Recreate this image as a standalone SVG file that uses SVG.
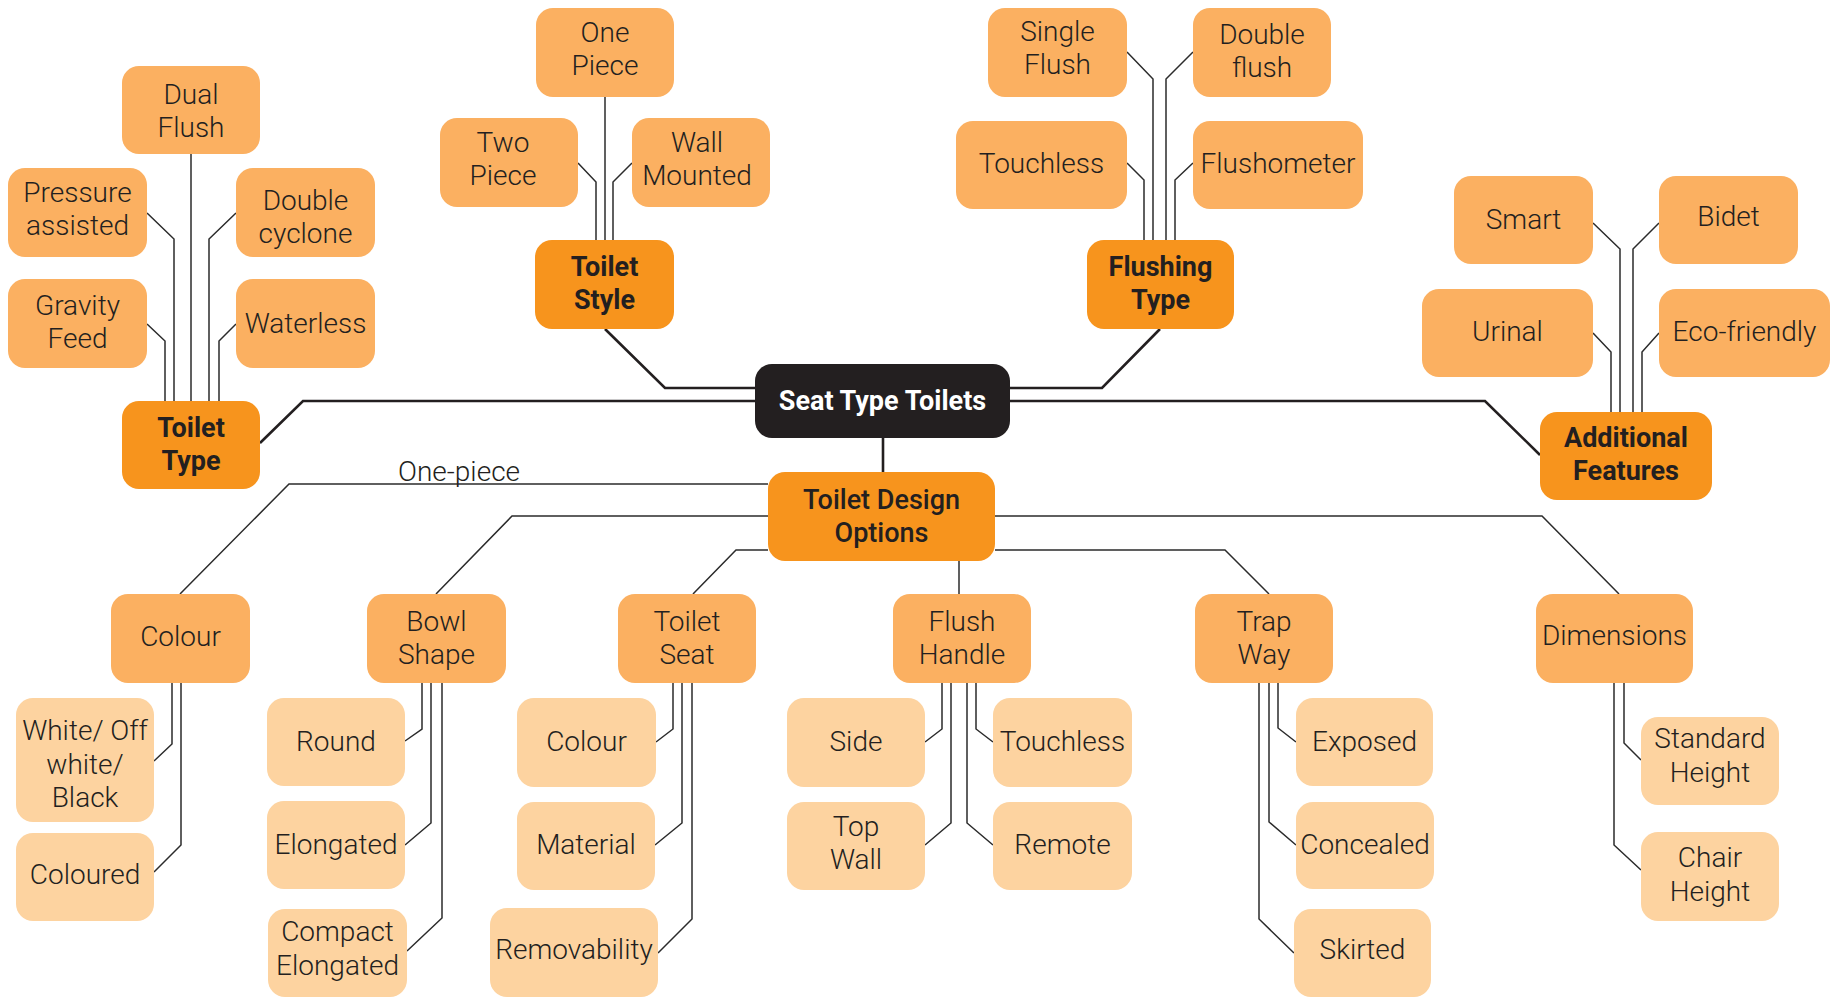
<svg xmlns="http://www.w3.org/2000/svg" width="1839" height="997" viewBox="0 0 1839 997">
<style>
.n1{fill:#F7941D}
.n2{fill:#FBB061}
.n3{fill:#FDD3A0}
.n0{fill:#231F20}
text{font-family:Roboto,"Liberation Sans",sans-serif;font-size:28px;fill:#231F20;text-anchor:middle}
.t{font-family:"Roboto Light",Roboto,"Liberation Sans",sans-serif;font-weight:300}
.b{font-weight:700;font-size:27px}
.m{font-weight:500;font-size:27px}
.w{fill:#FFFFFF;font-weight:700;font-size:27px}
.c{fill:none;stroke:#2B2B2B;stroke-width:1.5}
.k{fill:none;stroke:#231F20;stroke-width:2.6}
</style>
<rect width="1839" height="997" fill="#FFFFFF"/>
<g id="connectors">
<g class="k">
<path d="M755,401 H303 L260,443"/>
<path d="M755,388 H665 L605,329"/>
<path d="M1010,388 H1102 L1160,329"/>
<path d="M1010,401 H1485 L1540,455"/>
<path d="M883,438 V472"/>
</g>
<g class="c">
<path d="M191,154 V401"/>
<path d="M147,213 L174,239 V401"/>
<path d="M236,213 L209,239 V401"/>
<path d="M147,324 L165,341 V401"/>
<path d="M236,324 L219,341 V401"/>
<path d="M605,97 V240"/>
<path d="M578,163 L596,182 V240"/>
<path d="M632,163 L613,182 V240"/>
<path d="M1127,52 L1153,79 V240"/>
<path d="M1193,52 L1166,79 V240"/>
<path d="M1127,163 L1144,180 V240"/>
<path d="M1193,163 L1175,180 V240"/>
<path d="M1593,223 L1620,249 V412"/>
<path d="M1659,223 L1633,249 V412"/>
<path d="M1593,333 L1611,352 V412"/>
<path d="M1659,333 L1642,352 V412"/>
<path d="M768,484 H289 L180,594"/>
<path d="M768,516 H512 L436,594"/>
<path d="M768,550 H736 L693,594"/>
<path d="M959,561 V594"/>
<path d="M995,550 H1225 L1269,594"/>
<path d="M995,516 H1542 L1619,594"/>
<path d="M172,683 V744 L154,761"/>
<path d="M181,683 V845 L154,872"/>
<path d="M422,683 V729 L405,741"/>
<path d="M431,683 V823 L405,845"/>
<path d="M442,683 V918 L407,951"/>
<path d="M673,683 V729 L656,742"/>
<path d="M682,683 V823 L655,845"/>
<path d="M692,683 V919 L658,953"/>
<path d="M942,683 V729 L925,742"/>
<path d="M951,683 V823 L925,845"/>
<path d="M976,683 V729 L993,742"/>
<path d="M967,683 V823 L993,845"/>
<path d="M1278,683 V728 L1296,742"/>
<path d="M1269,683 V822 L1296,845"/>
<path d="M1259,683 V919 L1294,953"/>
<path d="M1624,683 V743 L1641,760"/>
<path d="M1614,683 V845 L1641,870"/>
</g>
<text class="t" x="398" y="481" style="text-anchor:start">One-piece</text>
</g>

<g id="seat-type-toilets"><rect class="n0" x="755" y="364" width="255" height="74" rx="17"/><text class="w" x="882.5" y="410">Seat Type Toilets</text></g>

<g id="toilet-type"><rect class="n1" x="122" y="401" width="138" height="88" rx="17"/><text class="b"><tspan x="191" y="437">Toilet</tspan><tspan x="191" y="470">Type</tspan></text></g>
<g id="toilet-style"><rect class="n1" x="535" y="240" width="139" height="89" rx="17"/><text class="b"><tspan x="604.5" y="276">Toilet</tspan><tspan x="604.5" y="309">Style</tspan></text></g>
<g id="flushing-type"><rect class="n1" x="1087" y="240" width="147" height="89" rx="17"/><text class="b"><tspan x="1160.5" y="276">Flushing</tspan><tspan x="1160.5" y="309">Type</tspan></text></g>
<g id="additional-features"><rect class="n1" x="1540" y="412" width="172" height="88" rx="17"/><text class="b"><tspan x="1626" y="447">Additional</tspan><tspan x="1626" y="480">Features</tspan></text></g>
<g id="toilet-design-options"><rect class="n1" x="768" y="472" width="227" height="89" rx="17"/><text class="m"><tspan x="881.5" y="509">Toilet Design</tspan><tspan x="881.5" y="542">Options</tspan></text></g>

<g id="dual-flush"><rect class="n2" x="122" y="66" width="138" height="88" rx="17"/><text class="t"><tspan x="191" y="104">Dual</tspan><tspan x="191" y="137">Flush</tspan></text></g>
<g id="pressure-assisted"><rect class="n2" x="8" y="168" width="139" height="89" rx="17"/><text class="t"><tspan x="77.5" y="202">Pressure</tspan><tspan x="77.5" y="235">assisted</tspan></text></g>
<g id="double-cyclone"><rect class="n2" x="236" y="168" width="139" height="89" rx="17"/><text class="t"><tspan x="305.5" y="210">Double</tspan><tspan x="305.5" y="243">cyclone</tspan></text></g>
<g id="gravity-feed"><rect class="n2" x="8" y="279" width="139" height="89" rx="17"/><text class="t"><tspan x="77.5" y="315">Gravity</tspan><tspan x="77.5" y="348">Feed</tspan></text></g>
<g id="waterless"><rect class="n2" x="236" y="279" width="139" height="89" rx="17"/><text class="t" x="305.5" y="333">Waterless</text></g>

<g id="one-piece"><rect class="n2" x="536" y="8" width="138" height="89" rx="17"/><text class="t"><tspan x="605" y="42">One</tspan><tspan x="605" y="75">Piece</tspan></text></g>
<g id="two-piece"><rect class="n2" x="440" y="118" width="138" height="89" rx="17"/><text class="t"><tspan x="503" y="152">Two</tspan><tspan x="503" y="185">Piece</tspan></text></g>
<g id="wall-mounted"><rect class="n2" x="632" y="118" width="138" height="89" rx="17"/><text class="t"><tspan x="697" y="152">Wall</tspan><tspan x="697" y="185">Mounted</tspan></text></g>

<g id="single-flush"><rect class="n2" x="988" y="8" width="139" height="89" rx="17"/><text class="t"><tspan x="1057.5" y="41">Single</tspan><tspan x="1057.5" y="74">Flush</tspan></text></g>
<g id="double-flush"><rect class="n2" x="1193" y="8" width="138" height="89" rx="17"/><text class="t"><tspan x="1262" y="44">Double</tspan><tspan x="1262" y="77">flush</tspan></text></g>
<g id="touchless-flush"><rect class="n2" x="956" y="121" width="171" height="88" rx="17"/><text class="t" x="1041.5" y="173">Touchless</text></g>
<g id="flushometer"><rect class="n2" x="1193" y="121" width="170" height="88" rx="17"/><text class="t" x="1278" y="173">Flushometer</text></g>

<g id="smart"><rect class="n2" x="1454" y="176" width="139" height="88" rx="17"/><text class="t" x="1523.5" y="229">Smart</text></g>
<g id="bidet"><rect class="n2" x="1659" y="176" width="139" height="88" rx="17"/><text class="t" x="1728.5" y="226">Bidet</text></g>
<g id="urinal"><rect class="n2" x="1422" y="289" width="171" height="88" rx="17"/><text class="t" x="1507.5" y="341">Urinal</text></g>
<g id="eco-friendly"><rect class="n2" x="1659" y="289" width="171" height="88" rx="17"/><text class="t" x="1744.5" y="341">Eco-friendly</text></g>

<g id="colour"><rect class="n2" x="111" y="594" width="139" height="89" rx="17"/><text class="t" x="180.5" y="646">Colour</text></g>
<g id="bowl-shape"><rect class="n2" x="367" y="594" width="139" height="89" rx="17"/><text class="t"><tspan x="436.5" y="631">Bowl</tspan><tspan x="436.5" y="664">Shape</tspan></text></g>
<g id="toilet-seat"><rect class="n2" x="618" y="594" width="138" height="89" rx="17"/><text class="t"><tspan x="687" y="631">Toilet</tspan><tspan x="687" y="664">Seat</tspan></text></g>
<g id="flush-handle"><rect class="n2" x="893" y="594" width="138" height="89" rx="17"/><text class="t"><tspan x="962" y="631">Flush</tspan><tspan x="962" y="664">Handle</tspan></text></g>
<g id="trap-way"><rect class="n2" x="1195" y="594" width="138" height="89" rx="17"/><text class="t"><tspan x="1264" y="631">Trap</tspan><tspan x="1264" y="664">Way</tspan></text></g>
<g id="dimensions"><rect class="n2" x="1536" y="594" width="157" height="89" rx="17"/><text class="t" x="1614.5" y="645">Dimensions</text></g>

<g id="white-off-white-black"><rect class="n3" x="16" y="698" width="138" height="124" rx="17"/><text class="t"><tspan x="85" y="740">White/ Off</tspan><tspan x="85" y="774">white/</tspan><tspan x="85" y="807">Black</tspan></text></g>
<g id="coloured"><rect class="n3" x="16" y="833" width="138" height="88" rx="17"/><text class="t" x="85" y="884">Coloured</text></g>
<g id="round"><rect class="n3" x="267" y="698" width="138" height="88" rx="17"/><text class="t" x="336" y="751">Round</text></g>
<g id="elongated"><rect class="n3" x="267" y="801" width="138" height="88" rx="17"/><text class="t" x="336" y="854">Elongated</text></g>
<g id="compact-elongated"><rect class="n3" x="268" y="909" width="139" height="88" rx="17"/><text class="t"><tspan x="337.5" y="941">Compact</tspan><tspan x="337.5" y="975">Elongated</tspan></text></g>
<g id="seat-colour"><rect class="n3" x="517" y="698" width="139" height="89" rx="17"/><text class="t" x="586.5" y="751">Colour</text></g>
<g id="material"><rect class="n3" x="517" y="802" width="138" height="88" rx="17"/><text class="t" x="586" y="854">Material</text></g>
<g id="removability"><rect class="n3" x="490" y="908" width="168" height="89" rx="17"/><text class="t" x="574" y="959">Removability</text></g>
<g id="side"><rect class="n3" x="787" y="698" width="138" height="89" rx="17"/><text class="t" x="856" y="751">Side</text></g>
<g id="top-wall"><rect class="n3" x="787" y="802" width="138" height="88" rx="17"/><text class="t"><tspan x="856" y="836">Top</tspan><tspan x="856" y="869">Wall</tspan></text></g>
<g id="touchless-handle"><rect class="n3" x="993" y="698" width="139" height="89" rx="17"/><text class="t" x="1062.5" y="751">Touchless</text></g>
<g id="remote"><rect class="n3" x="993" y="802" width="139" height="88" rx="17"/><text class="t" x="1062.5" y="854">Remote</text></g>
<g id="exposed"><rect class="n3" x="1296" y="698" width="137" height="88" rx="17"/><text class="t" x="1364.5" y="751">Exposed</text></g>
<g id="concealed"><rect class="n3" x="1296" y="802" width="138" height="87" rx="17"/><text class="t" x="1365" y="854">Concealed</text></g>
<g id="skirted"><rect class="n3" x="1294" y="909" width="137" height="88" rx="17"/><text class="t" x="1362.5" y="959">Skirted</text></g>
<g id="standard-height"><rect class="n3" x="1641" y="717" width="138" height="88" rx="17"/><text class="t"><tspan x="1710" y="748">Standard</tspan><tspan x="1710" y="782">Height</tspan></text></g>
<g id="chair-height"><rect class="n3" x="1641" y="832" width="138" height="89" rx="17"/><text class="t"><tspan x="1710" y="867">Chair</tspan><tspan x="1710" y="901">Height</tspan></text></g>
</svg>
